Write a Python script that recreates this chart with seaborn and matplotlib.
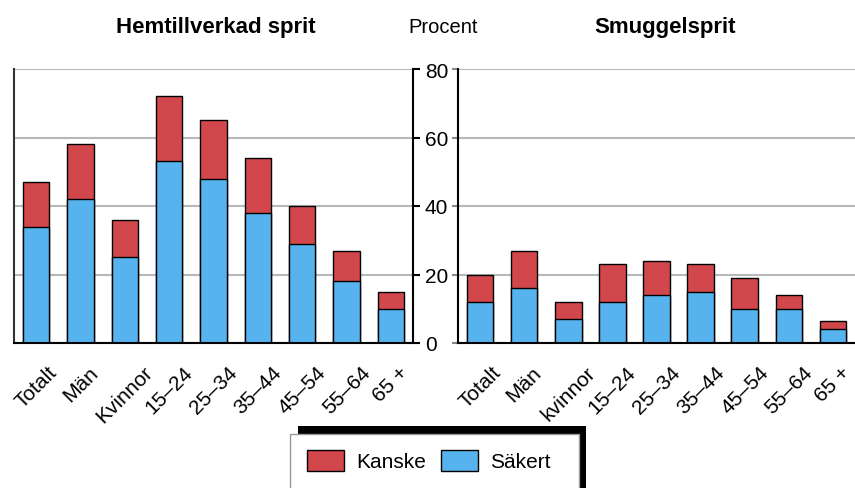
import numpy as np
import pandas as pd
import matplotlib
matplotlib.use('Agg')
import matplotlib.pyplot as plt
import seaborn as sns
from matplotlib.patches import Rectangle, Patch

# ---- data ----
categories_left = ["Totalt", "Män", "Kvinnor", "15–24", "25–34", "35–44", "45–54", "55–64", "65 +"]
categories_right = ["Totalt", "Män", "kvinnor", "15–24", "25–34", "35–44", "45–54", "55–64", "65 +"]
hemma_sakert = [34, 42, 25, 53, 48, 38, 29, 18, 10]
hemma_kanske = [13, 16, 11, 19, 17, 16, 11, 9, 5]
smuggel_sakert = [12, 16, 7, 12, 14, 15, 10, 10, 4]
smuggel_kanske = [8, 11, 5, 11, 10, 8, 9, 4, 2.5]
yticks = [0, 20, 40, 60, 80]
legend_labels = ["Kanske", "Säkert"]

sns.set_style('white')
plt.rcParams['font.family'] = ['Liberation Sans', 'DejaVu Sans']
plt.rcParams['text.color'] = 'black'
plt.rcParams['xtick.color'] = 'black'
plt.rcParams['ytick.color'] = 'black'
plt.rcParams['axes.labelcolor'] = 'black'

RED = '#d1474b'
BLUE = '#57b3ee'
W, H = 855, 489
fig = plt.figure(figsize=(W / 100, H / 100), dpi=100)


def ax_rect(x0, x1, y0, y1):
    return [x0 / W, 1 - y1 / H, (x1 - x0) / W, (y1 - y0) / H]


axL = fig.add_axes(ax_rect(14, 413, 70, 344))
axR = fig.add_axes(ax_rect(458, 855, 70, 344))

for ax, cats, sak, kan in [(axL, categories_left, hemma_sakert, hemma_kanske),
                           (axR, categories_right, smuggel_sakert, smuggel_kanske)]:
    df = pd.DataFrame({'kat': cats, 'sakert': sak, 'kanske': kan})
    df['total'] = df['sakert'] + df['kanske']
    sns.barplot(data=df, x='kat', y='total', color=RED, saturation=1,
                edgecolor='black', linewidth=1, width=0.6, ax=ax)
    sns.barplot(data=df, x='kat', y='sakert', color=BLUE, saturation=1,
                edgecolor='black', linewidth=1, width=0.6, ax=ax)
    ax.set_xlim(-0.5, 8.5)
    ax.set_ylim(0, 80)
    ax.set_yticks(yticks)
    ax.yaxis.grid(True, color='#b8b8b8', lw=1.5)
    ax.xaxis.grid(False)
    ax.set_axisbelow(True)
    ax.set_xlabel('')
    ax.set_ylabel('')
    ax.set_xticks(range(len(cats)))
    ax.set_xticklabels(cats, rotation=45, ha='center', va='top', fontsize=15, color='black')
    ax.tick_params(axis='x', length=0, pad=14)
    ax.spines['top'].set_visible(False)
    ax.spines['bottom'].set_color('black')
    ax.spines['bottom'].set_linewidth(1.5)

# left panel: y labels on the right side
axL.yaxis.tick_right()
axL.tick_params(axis='y', right=True, left=False, length=5, width=1.5,
                pad=3.5, labelsize=15, color='black', labelcolor='black')
axL.spines['right'].set_visible(True)
axL.spines['right'].set_color('black')
axL.spines['right'].set_linewidth(1.5)
axL.spines['left'].set_color('#333333')
axL.spines['left'].set_linewidth(1.5)

# right panel
axR.tick_params(axis='y', left=True, right=False, length=4.3, width=1.5,
                labelleft=False, color='#888888')
axR.spines['right'].set_visible(False)
axR.spines['left'].set_color('black')
axR.spines['left'].set_linewidth(1.5)

# titles
fig.text(216 / W, 1 - 33 / H, 'Hemtillverkad sprit', ha='center', va='baseline',
         fontsize=16, fontweight='bold', color='black')
fig.text(443 / W, 1 - 33 / H, 'Procent', ha='center', va='baseline', fontsize=14.5,
         color='black')
fig.text(665 / W, 1 - 33 / H, 'Smuggelsprit', ha='center', va='baseline',
         fontsize=16, fontweight='bold', color='black')

# legend box with offset shadow
fig.add_artist(Rectangle((298 / W, 0), 288 / W, (489 - 427) / H, transform=fig.transFigure,
                         facecolor='black', edgecolor='none', zorder=3))
fig.add_artist(Rectangle((290 / W, -0.02), 289 / W, (489 - 435) / H + 0.02,
                         transform=fig.transFigure, facecolor='white',
                         edgecolor='#999999', lw=1, zorder=4))
handles = [Patch(facecolor=RED, edgecolor='black', lw=1, label=legend_labels[0]),
           Patch(facecolor=BLUE, edgecolor='black', lw=1, label=legend_labels[1])]
leg = fig.legend(handles=handles, loc='upper left', bbox_to_anchor=(306.7 / W, 1 - 451 / H),
                 ncol=2, frameon=False, fontsize=15, handlelength=1.78, handleheight=1.15,
                 handletextpad=0.6, columnspacing=0.7, borderpad=0, borderaxespad=0,
                 labelcolor='black')
leg.set_zorder(5)

fig.savefig('out.png', dpi=100)
